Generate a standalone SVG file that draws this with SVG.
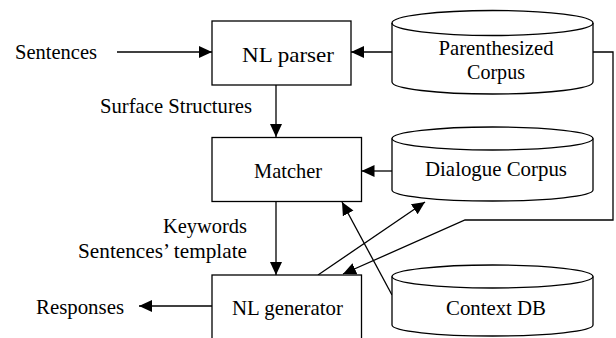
<svg xmlns="http://www.w3.org/2000/svg" width="616" height="338" viewBox="0 0 616 338">
<style>
.box{fill:#fff;stroke:#000;stroke-width:1.3}
.cyl{fill:#fff;stroke:#000;stroke-width:1.3}
.t{font-family:"Liberation Serif","Times New Roman","DejaVu Serif",serif;font-size:21px;fill:#000}
.c{fill:none;stroke:#000;stroke-width:1.3}
</style>
<defs>
<marker id="ah" markerUnits="userSpaceOnUse" markerWidth="14" markerHeight="14" viewBox="0 0 14 14" refX="13" refY="7" orient="auto">
<path d="M0,1 L13,7 L0,13 Z" fill="#000"/>
</marker>
</defs>
<rect width="616" height="338" fill="#fff"/>
<g id="connectors">
<line class="c" x1="117" y1="52" x2="212" y2="52" marker-end="url(#ah)"/>
<line class="c" x1="392" y1="52" x2="351" y2="52" marker-end="url(#ah)"/>
<line class="c" x1="276" y1="85" x2="276" y2="137" marker-end="url(#ah)"/>
<line class="c" x1="392" y1="171" x2="361.5" y2="171" marker-end="url(#ah)"/>
<line class="c" x1="276" y1="201.5" x2="276" y2="275" marker-end="url(#ah)"/>
<polyline class="c" points="593,52 613,52 613,220 465,220 343,274" marker-end="url(#ah)"/>
<line class="c" x1="318" y1="275" x2="425" y2="202" marker-end="url(#ah)"/>
<line class="c" x1="392" y1="295" x2="342" y2="202" marker-end="url(#ah)"/>
<line class="c" x1="212" y1="306" x2="139" y2="306" marker-end="url(#ah)"/>
</g>
<g id="nl-parser">
<rect class="box" x="212" y="21" width="139" height="64"/>
<text class="t" x="242" y="61.5" textLength="92" lengthAdjust="spacingAndGlyphs">NL parser</text>
</g>
<g id="matcher">
<rect class="box" x="212" y="137.5" width="149.5" height="64"/>
<text class="t" x="254" y="178" textLength="68" lengthAdjust="spacingAndGlyphs">Matcher</text>
</g>
<g id="nl-generator">
<rect class="box" x="212" y="275" width="149.5" height="80"/>
<text class="t" x="232" y="314.5" textLength="111" lengthAdjust="spacingAndGlyphs">NL generator</text>
</g>
<g id="parenthesized-corpus">
<path class="cyl" d="M392,23 L392,82 A100.5,12 0 0 0 593,82 L593,23 A100.5,12.5 0 0 0 392,23 Z"/>
<path class="c" d="M392,23 A100.5,12.5 0 0 0 593,23"/>
<text class="t" x="438.5" y="55" textLength="115" lengthAdjust="spacingAndGlyphs">Parenthesized</text>
<text class="t" x="467" y="79" textLength="58" lengthAdjust="spacingAndGlyphs">Corpus</text>
</g>
<g id="dialogue-corpus">
<path class="cyl" d="M392,138.5 L392,190 A100.5,11 0 0 0 593,190 L593,138.5 A100.5,11.5 0 0 0 392,138.5 Z"/>
<path class="c" d="M392,138.5 A100.5,11.5 0 0 0 593,138.5"/>
<text class="t" x="425" y="175.5" textLength="142" lengthAdjust="spacingAndGlyphs">Dialogue Corpus</text>
</g>
<g id="context-db">
<path class="cyl" d="M392,276.5 L392,325 A100.5,11 0 0 0 593,325 L593,276.5 A100.5,11.5 0 0 0 392,276.5 Z"/>
<path class="c" d="M392,276.5 A100.5,11.5 0 0 0 593,276.5"/>
<text class="t" x="446" y="315" textLength="100" lengthAdjust="spacingAndGlyphs">Context DB</text>
</g>
<g id="labels">
<text class="t" x="15" y="59" textLength="82" lengthAdjust="spacingAndGlyphs">Sentences</text>
<text class="t" x="100" y="112.5" textLength="152" lengthAdjust="spacingAndGlyphs">Surface Structures</text>
<text class="t" x="163" y="233" textLength="84" lengthAdjust="spacingAndGlyphs">Keywords</text>
<text class="t" x="78" y="258" textLength="169" lengthAdjust="spacingAndGlyphs">Sentences’ template</text>
<text class="t" x="36" y="313.5" textLength="88" lengthAdjust="spacingAndGlyphs">Responses</text>
</g>
</svg>
